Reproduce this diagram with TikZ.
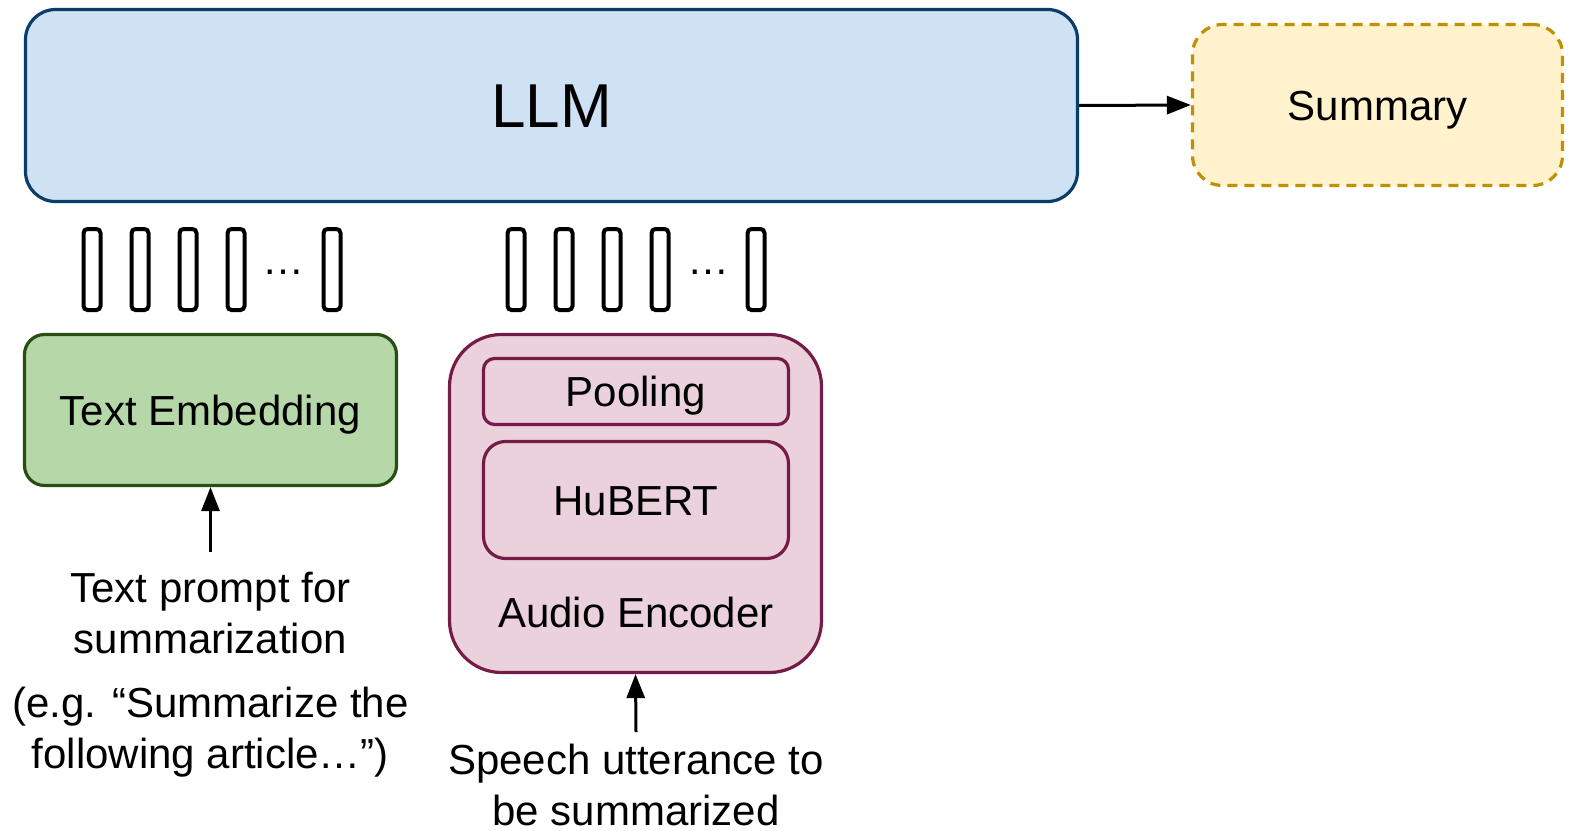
\documentclass[tikz,border=0pt]{standalone}
\usepackage{fontspec}
\setmainfont{Liberation Sans}
\usetikzlibrary{arrows.meta}
\definecolor{llmfill}{HTML}{CFE2F3}
\definecolor{llmdraw}{HTML}{0B3D6B}
\definecolor{sumfill}{HTML}{FFF2CC}
\definecolor{sumdraw}{HTML}{BF9000}
\definecolor{tefill}{HTML}{B6D7A8}
\definecolor{tedraw}{HTML}{274E13}
\definecolor{aefill}{HTML}{EAD1DC}
\definecolor{aedraw}{HTML}{741B47}
\tikzset{
  txt/.style={font=\fontsize{42}{51}\selectfont},
  box/.style={draw, line width=3.2pt, inner sep=0pt, txt, text height=30pt, text depth=0pt},
  tok/.style={draw, line width=4pt, rounded corners=4pt, minimum width=17pt, minimum height=81pt, inner sep=0pt},
  arr/.style={line width=3pt, -{Triangle[length=24pt,width=18pt]}},
  lbl/.style={txt, align=center, inner sep=0pt},
}
\begin{document}
\begin{tikzpicture}[x=1pt,y=-1pt]
\useasboundingbox (0,0) rectangle (1576,830);
% LLM
\node[box, fill=llmfill, draw=llmdraw, rounded corners=30pt, minimum width=1052pt, minimum height=192pt,
  font=\fontsize{62}{70}\selectfont, text height=44pt] (llm) at (551.5,105.5) {LLM};
% Summary
\node[box, fill=sumfill, draw=sumdraw, dash pattern=on 10pt off 7pt, rounded corners=30pt,
  minimum width=370pt, minimum height=161pt] (sum) at (1377.5,105) {Summary};
\draw[arr] (llm.east) -- (sum.west);
% tokens, text side
\node[tok] (t1) at (92,269.5) {};
\node[tok] (t2) at (140,269.5) {};
\node[tok] (t3) at (188,269.5) {};
\node[tok] (t4) at (236,269.5) {};
\node[txt, anchor=base, inner sep=0pt] (td) at (283.5,274) {…};
\node[tok] (t5) at (332,269.5) {};
% tokens, audio side
\node[tok] (s1) at (516,269.5) {};
\node[tok] (s2) at (564,269.5) {};
\node[tok] (s3) at (612,269.5) {};
\node[tok] (s4) at (660,269.5) {};
\node[txt, anchor=base, inner sep=0pt] (sd) at (708,274) {…};
\node[tok] (s5) at (756,269.5) {};
% Text embedding
\node[box, fill=tefill, draw=tedraw, rounded corners=20pt, minimum width=372pt, minimum height=151pt] (te) at (210.5,410) {Text Embedding};
\coordinate (tin) at (210.5,552);
\draw[arr] (tin) -- (te.south);
\node[lbl, anchor=base] (tp) at (210.5,653) {Text prompt for\\summarization};
\node[lbl, anchor=base] (eg) at (210.5,768) {(e.g. “Summarize the\\following article…”)};
% Audio encoder
\node[box, fill=aefill, draw=aedraw, rounded corners=52pt, minimum width=372pt, minimum height=338pt] (ae) at (635.5,503.5) {};
\node[box, fill=aefill, draw=aedraw, rounded corners=11pt, minimum width=305pt, minimum height=66pt] (pool) at (636,391.5) {Pooling};
\node[box, fill=aefill, draw=aedraw, rounded corners=22pt, minimum width=305pt, minimum height=117pt] (hub) at (636,500) {HuBERT};
\node[txt, anchor=base, inner sep=0pt] (ael) at (636,627) {Audio Encoder};
\coordinate (ain) at (636,732);
\draw[arr] (ain) -- (ae.south);
\node[lbl, anchor=base] (sp) at (636,825) {Speech utterance to\\be summarized};
\end{tikzpicture}
\end{document}
